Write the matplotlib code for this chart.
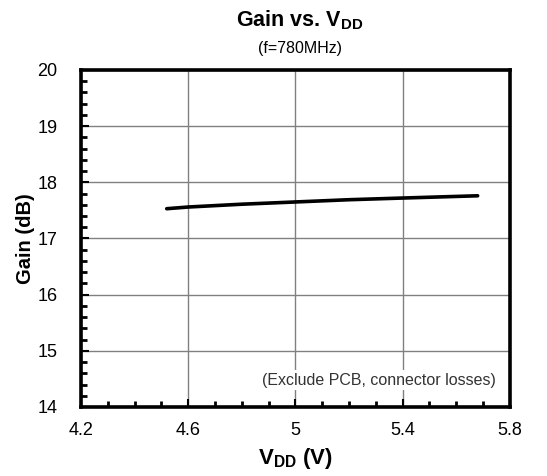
import matplotlib
matplotlib.use("Agg")
import matplotlib.pyplot as plt
from matplotlib.ticker import MultipleLocator

plt.rcParams["font.family"] = ["Liberation Sans", "DejaVu Sans"]
plt.rcParams["mathtext.fontset"] = "custom"
plt.rcParams["mathtext.rm"] = "Liberation Sans"
plt.rcParams["mathtext.bf"] = "Liberation Sans:bold"

# Gain vs supply voltage, f = 780 MHz
vdd = [4.52, 4.6, 4.8, 5.0, 5.2, 5.4, 5.68]
gain_db = [17.53, 17.56, 17.61, 17.65, 17.69, 17.72, 17.76]

x_ticks = [4.2, 4.6, 5.0, 5.4, 5.8]
x_tick_labels = ["4.2", "4.6", "5", "5.4", "5.8"]
y_ticks = [14, 15, 16, 17, 18, 19, 20]

fig = plt.figure(figsize=(5.47, 4.76), dpi=100)
ax = fig.add_axes([0.148, 0.145, 0.784, 0.708])

ax.plot(vdd, gain_db, color="black", lw=2.6, solid_capstyle="round", zorder=3)

ax.set_xlim(4.2, 5.8)
ax.set_ylim(14, 20)
ax.set_xticks(x_ticks)
ax.set_xticklabels(x_tick_labels)
ax.set_yticks(y_ticks)
ax.xaxis.set_minor_locator(MultipleLocator(0.1))
ax.yaxis.set_minor_locator(MultipleLocator(0.2))
ax.grid(True, which="major", color="#808080", lw=1.0)
ax.tick_params(which="both", direction="in", color="black", labelsize=13)
ax.tick_params(which="major", length=6, width=1.5)
ax.tick_params(which="minor", length=4, width=2)
ax.tick_params(axis="x", pad=11)
ax.tick_params(axis="y", pad=17)
for sp in ax.spines.values():
    sp.set_linewidth(2.6)

ax.text(0.968, 0.08, "(Exclude PCB, connector losses)", transform=ax.transAxes,
        ha="right", va="center", fontsize=11.5, color="#333333",
        bbox=dict(facecolor="white", edgecolor="none", pad=1.5), zorder=4)

ax.set_xlabel(r"$\mathbf{V_{DD}}$ (V)", fontsize=16, fontweight="bold", labelpad=5)
ax.set_ylabel("Gain (dB)", fontsize=14.5, fontweight="bold")
ax.yaxis.set_label_coords(-0.108, 0.5)

fig.text(0.548, 0.958, r"Gain vs. $\mathbf{V_{DD}}$", ha="center", va="center",
         fontsize=15.5, fontweight="bold")
fig.text(0.548, 0.899, "(f=780MHz)", ha="center", va="center", fontsize=11.5)

fig.savefig("out.png", dpi=100)
